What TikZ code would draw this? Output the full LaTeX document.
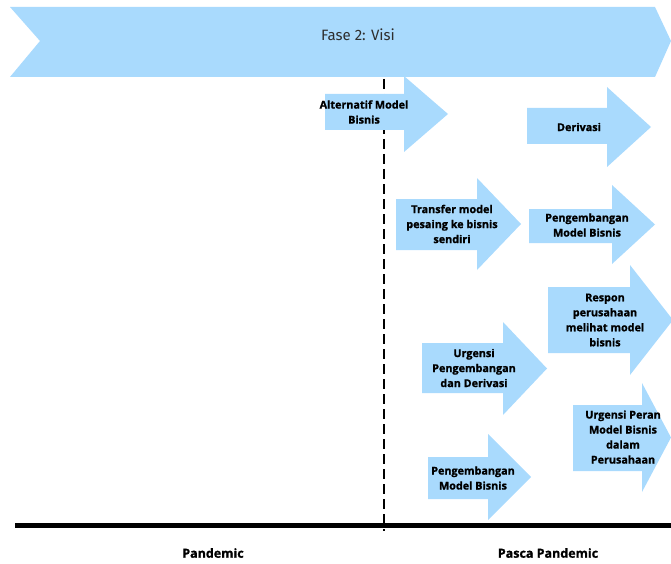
\documentclass[tikz,border=0pt]{standalone}
\usepackage{fontspec}
\setmainfont{Open Sans}[BoldFeatures={FakeBold=1.2}]
\newfontfamily\titlefont{Fira Sans}
\usepackage{tikz}
\definecolor{skyblue}{HTML}{A9DAFD}
\definecolor{titlegray}{HTML}{2E2E2E}
% block arrow: left, head start, tip, body top, body bottom, head top, head bottom
\newcommand{\blockarrow}[7]{%
  \fill[skyblue] (#1,#4) -- (#2,#4) -- (#2,#6) -- (#3,{(#6+#7)/2})
    -- (#2,#7) -- (#2,#5) -- (#1,#5) -- cycle;}

\begin{document}
\begin{tikzpicture}[x=1pt,y=-1pt,
   boxtext/.style={align=center,inner sep=0pt,
     font=\fontsize{10.8}{15}\selectfont\bfseries},
   axistext/.style={inner sep=0pt,font=\fontsize{12.5}{14}\selectfont\bfseries}]
\useasboundingbox (0,0) rectangle (671,564);

% banner
\fill[skyblue] (10,7) -- (655,7) -- (671,41) -- (655,77) -- (10,77) -- (40,41) -- cycle;
\node[inner sep=0pt,text=titlegray,font=\titlefont\fontsize{15}{17}\selectfont]
   (fase) at (358,35) {Fase 2: Visi};

% time axis
\coordinate (divtop) at (384,79);
\coordinate (divbot) at (384,531);
\draw[line width=2.6pt,dash pattern=on 10pt off 5pt] (divtop) -- (divbot);
\coordinate (axisl) at (15,525);
\coordinate (axisr) at (671,525);
\draw[line width=5pt] (axisl) -- (axisr);

% arrows
\blockarrow{325}{404}{448}{94}{130}{76}{152}
\node[boxtext] (alt) at (364,112) {Alternatif Model\\Bisnis};

\blockarrow{527}{607}{651}{108}{144}{87}{167}
\node[boxtext] (der) at (579,127) {Derivasi};

\blockarrow{396}{477}{521}{199}{250}{178}{270}
\node[boxtext] (trans) at (452,224) {Transfer model\\pesaing ke bisnis\\sendiri};

\blockarrow{529}{612}{655}{209}{243}{185}{264}
\node[boxtext] (peng1) at (587,225) {Pengembangan\\Model Bisnis};

\blockarrow{548}{630}{673}{287}{353}{265}{375}
\node[boxtext] (resp) at (605,320) {Respon\\perusahaan\\melihat model\\bisnis};

\blockarrow{422}{503}{547}{343}{393}{322}{415}
\node[boxtext] (urg) at (474,368) {Urgensi\\Pengembangan\\dan Derivasi};

\blockarrow{428}{488}{531}{457}{499}{434}{520}
\node[boxtext] (peng2) at (473,478) {Pengembangan\\Model Bisnis};

\blockarrow{573}{642}{671}{405}{471}{383}{492}
\node[boxtext] (peran) at (623,437) {Urgensi Peran\\Model Bisnis\\dalam\\Perusahaan};

% period labels
\node[axistext] (pand) at (213,553) {Pandemic};
\node[axistext] (pasca) at (548,553) {Pasca Pandemic};
\end{tikzpicture}
\end{document}
